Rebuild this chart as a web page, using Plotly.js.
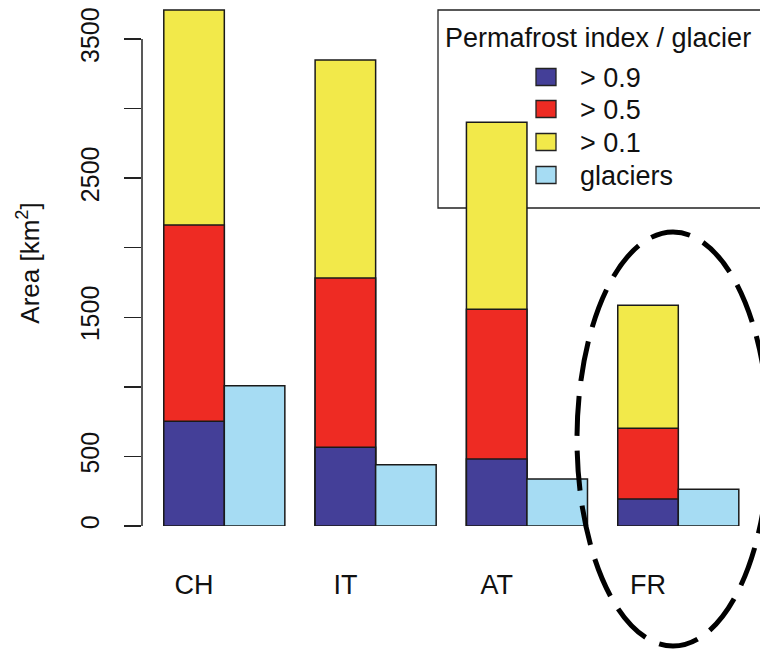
<!DOCTYPE html>
<html>
<head>
<meta charset="utf-8">
<script src="https://cdn.plot.ly/plotly-3.0.1.min.js"></script>
<style>html,body{margin:0;padding:0;background:#fff;}#chart{width:760px;height:650px;}</style>
</head>
<body>
<div id="chart"></div>
<script>
// ---- data ----
var categories = ["CH", "IT", "AT", "FR"];
var pf09 = [752, 566, 481, 194];      // area with permafrost index > 0.9 (km2)
var pf05 = [2163, 1782, 1557, 702];   // area with permafrost index > 0.5 (km2)
var pf01 = [3708, 3349, 2901, 1586];  // area with permafrost index > 0.1 (km2)
var glaciers = [1008, 441, 338, 264]; // glacier area (km2)
var tickVals = [0, 500, 1500, 2500, 3500];
var tickLabels = ["0", "500", "1500", "2500", "3500"];
var tickStep = 500;
var axisTop = 3500;
var legendTitle = "Permafrost index / glacier";
var legendLabels = ["> 0.9", "> 0.5", "> 0.1", "glaciers"];

// ---- styles ----
var FONT = "Liberation Sans, Arial, Helvetica, sans-serif";
var colors = {pf09: "#443f98", pf05: "#ee2b23", pf01: "#f2e94a", glac: "#a6dcf3"};
var edge = {color: "#1a1a1a", width: 1.5};
var W = 760, H = 650, ML = 142, MR = 0, MT = 0, MB = 124;
var YMAX = 3780;
function px(x) { return (x - ML) / (W - ML - MR); }
function py(y) { return (H - MB - y) / (H - MT - MB); }

function barTrace(name, y, color, offset) {
  return {
    type: "bar", name: name, x: categories, y: y,
    width: 0.4, offset: offset,
    marker: {color: color, line: edge},
    showlegend: false, hoverinfo: "x+y+name"
  };
}

var traces = [
  barTrace("> 0.1", pf01, colors.pf01, -0.2),
  barTrace("> 0.5", pf05, colors.pf05, -0.2),
  barTrace("> 0.9", pf09, colors.pf09, -0.2),
  barTrace("glaciers", glaciers, colors.glac, 0.2)
];

var legendColors = [colors.pf09, colors.pf05, colors.pf01, colors.glac];
var rowY = [77, 109, 142, 175];

var shapes = [
  // y axis line, only spanning 0 .. 3500 as in the reference
  {type: "line", xref: "paper", yref: "paper", layer: "above",
   x0: 0, x1: 0, y0: 0, y1: axisTop / YMAX,
   line: {color: "#222", width: 1.5}},
  // legend box (drawn below the bars, as in the reference)
  {type: "rect", xref: "paper", yref: "paper", layer: "below",
   x0: px(438), x1: px(790), y0: py(208), y1: py(10),
   fillcolor: "#ffffff", line: {color: "#222", width: 1.3}},
  // dashed ellipse around FR
  {type: "circle", xref: "paper", yref: "paper", layer: "above",
   x0: px(577), x1: px(769), y0: py(646), y1: py(232),
   line: {color: "#000", width: 5, dash: "40px,15px"}}
];
var annotations = [
  {xref: "paper", yref: "paper", x: px(443), y: py(38), xanchor: "left", yanchor: "middle",
   text: legendTitle, showarrow: false, font: {family: FONT, size: 27, color: "#111"}}
];
legendLabels.forEach(function (lab, i) {
  shapes.push({type: "rect", xref: "paper", yref: "paper", layer: "below",
    x0: px(536), x1: px(556), y0: py(rowY[i] + 8.5), y1: py(rowY[i] - 8.5),
    fillcolor: legendColors[i], line: {color: "#222", width: 1.3}});
  annotations.push({xref: "paper", yref: "paper", x: px(578), y: py(rowY[i] + 1),
    xanchor: "left", yanchor: "middle", text: lab, showarrow: false,
    font: {family: FONT, size: 27, color: "#111"}});
});

var layout = {
  width: W, height: H,
  margin: {l: ML, r: MR, t: MT, b: MB, pad: 0},
  paper_bgcolor: "#fff", plot_bgcolor: "#fff",
  barmode: "overlay",
  font: {family: FONT, color: "#111"},
  showlegend: false,
  xaxis: {
    type: "category", range: [-0.344, 3.74],
    showline: false, showgrid: false, zeroline: false, ticks: "",
    tickfont: {family: FONT, size: 27, color: "#111"},
    ticklabelstandoff: 40, fixedrange: true
  },
  yaxis: {
    range: [0, YMAX], showgrid: false, zeroline: false,
    showline: false,
    ticks: "outside", ticklen: 17, tickwidth: 1.5, tickcolor: "#222",
    tickmode: "array", tickvals: tickVals, ticktext: tickLabels,
    minor: {tickmode: "linear", tick0: 0, dtick: tickStep, ticks: "outside",
            ticklen: 17, tickwidth: 1.5, tickcolor: "#222", showgrid: false},
    tickangle: -90, tickfont: {family: FONT, size: 25, color: "#111"},
    ticklabelstandoff: 15,
    title: {text: "Area [km<sup>2</sup>]", font: {family: FONT, size: 26, color: "#111"}, standoff: 28},
    fixedrange: true
  },
  shapes: shapes,
  annotations: annotations
};

Plotly.newPlot("chart", traces, layout, {displayModeBar: false, staticPlot: true});
</script>
</body>
</html>
